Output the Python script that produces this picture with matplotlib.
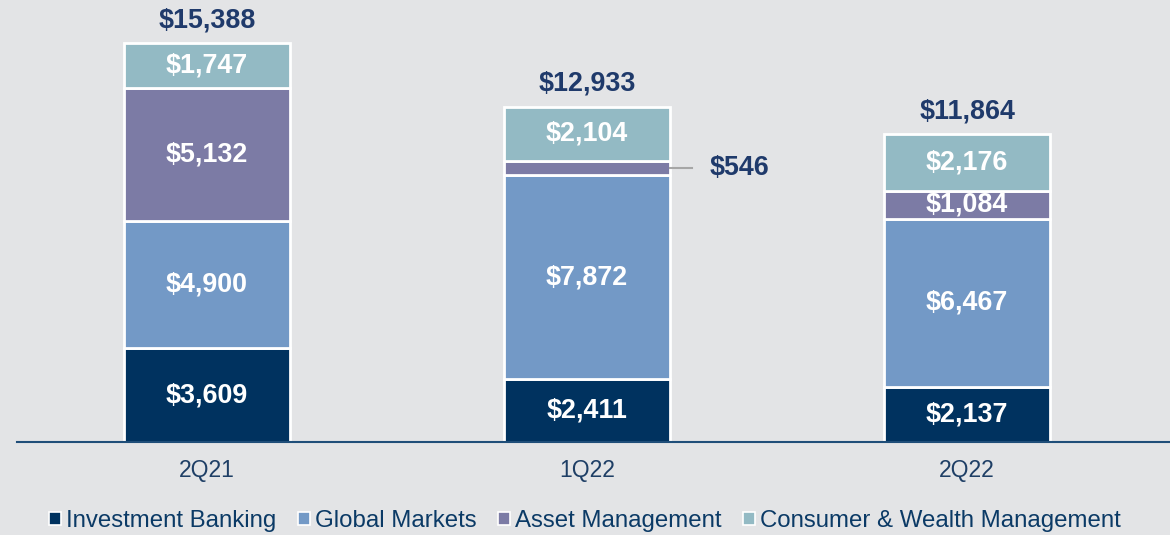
import numpy as np
import matplotlib.pyplot as plt
from matplotlib.patches import Patch

quarters = ['2Q21', '1Q22', '2Q22']
investment_banking = [3609, 2411, 2137]
global_markets = [4900, 7872, 6467]
asset_management = [5132, 546, 1084]
consumer_wealth = [1747, 2104, 2176]
totals = [15388, 12933, 11864]

segments = ['Investment Banking', 'Global Markets', 'Asset Management',
            'Consumer & Wealth Management']
colours = ['#00325F', '#7399C6', '#7C7BA5', '#93BAC4']
bg = '#E3E4E6'
navy = '#1F3A6B'

plt.rcParams['font.family'] = ['Liberation Sans', 'DejaVu Sans']

fig = plt.figure(figsize=(11.7, 5.35), dpi=100, facecolor=bg)
ax = fig.add_axes([17 / 1170, 1 - 442 / 535, 1153 / 1170, 442 / 535])
ax.set_facecolor(bg)

x = np.arange(len(quarters))
width = 0.435
bottom = np.zeros(len(quarters))
series = [investment_banking, global_markets, asset_management, consumer_wealth]
for vals, col in zip(series, colours):
    vals = np.array(vals)
    ax.bar(x, vals, width, bottom=bottom, color=col, edgecolor='white', linewidth=2)
    for i, v in enumerate(vals):
        if v < 800:
            # small slice: label goes outside with a leader line
            yc = bottom[i] + v / 2
            ax.plot([x[i] + width / 2, x[i] + width / 2 + 0.06], [yc, yc],
                    color='#A6A6A6', linewidth=1.5)
            ax.text(x[i] + width / 2 + 0.105, yc, f'${v:,}', ha='left', va='center',
                    color=navy, fontsize=19.4, fontweight='bold')
        else:
            ax.text(x[i], bottom[i] + v / 2, f'${v:,}', ha='center', va='center',
                    color='white', fontsize=19.4, fontweight='bold')
    bottom += vals

for i, t in enumerate(totals):
    ax.text(x[i], t + 380, f'${t:,}', ha='center', va='bottom',
            color=navy, fontsize=19.4, fontweight='bold')

ax.set_xlim(-0.5, 2.534)
ax.set_ylim(0, 17050)
for s in ['top', 'right', 'left']:
    ax.spines[s].set_visible(False)
ax.spines['bottom'].set_color('#1F4E79')
ax.spines['bottom'].set_linewidth(1.5)
ax.set_yticks([])
ax.set_xticks(x)
ax.set_xticklabels(quarters, fontsize=16.5, color='#1F3F66')
ax.tick_params(axis='x', length=0, pad=12)

handles = [Patch(facecolor=c, edgecolor='white', linewidth=1.2) for c in colours]
fig.legend(handles, segments, loc='lower center', bbox_to_anchor=(0.5, -0.035),
           ncol=4, frameon=False, fontsize=17.3, handlelength=0.5, handleheight=0.5,
           handletextpad=0.2, columnspacing=0.9, labelcolor='#0B3A66')

fig.savefig('out.png', dpi=100, facecolor=bg)
